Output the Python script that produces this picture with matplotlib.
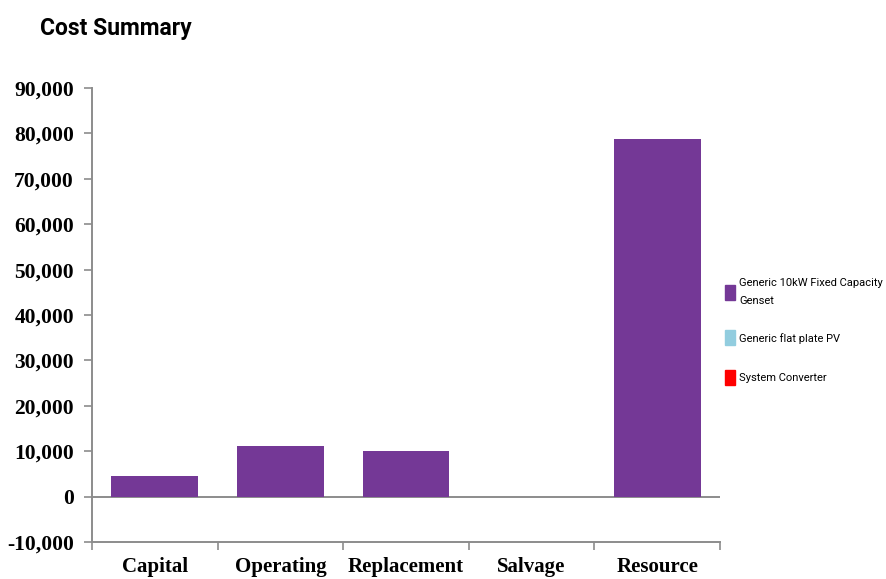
import matplotlib
matplotlib.use("Agg")
import matplotlib.pyplot as plt
from matplotlib.ticker import FuncFormatter, FixedLocator
from matplotlib.patches import Patch
import numpy as np

categories = ["Capital", "Operating", "Replacement", "Salvage", "Resource"]
genset = [4600, 11200, 10000, 0, 78800]
pv = [0, 0, 0, 0, 0]
converter = [0, 0, 0, 0, 0]
series_names = ["Generic 10kW Fixed Capacity\nGenset", "Generic flat plate PV", "System Converter"]
series_colors = ["#743896", "#92CDDF", "#FF0000"]
yticks = [-10000, 0, 10000, 20000, 30000, 40000, 50000, 60000, 70000, 80000, 90000]

fig = plt.figure(figsize=(8.87, 5.79), dpi=100)
ax = fig.add_axes([92/887, 1-542/579, (720-92)/887, (542-88)/579])

x = np.arange(len(categories))
ax.bar(x, genset, width=0.69, color=series_colors[0], zorder=3)
ax.bar(x, pv, width=0.69, bottom=genset, color=series_colors[1], zorder=3)
ax.bar(x, converter, width=0.69, bottom=genset, color=series_colors[2], zorder=3)

ax.axhline(0, color="#8c8c8c", lw=1.4, zorder=2)
ax.set_xlim(-0.5, len(categories) - 0.5)
ax.set_ylim(-10000, 90000)

serif = ["Liberation Serif", "DejaVu Serif"]
ax.set_yticks(yticks)
ax.yaxis.set_major_formatter(FuncFormatter(lambda v, p: f"{int(v):,}"))
for lab in ax.get_yticklabels():
    lab.set_fontfamily(serif)
    lab.set_fontweight("bold")
    lab.set_fontsize(15.5)

ax.xaxis.set_major_locator(FixedLocator(np.arange(len(categories) + 1) - 0.5))
ax.xaxis.set_major_formatter(FuncFormatter(lambda v, p: ""))
ax.xaxis.set_minor_locator(FixedLocator(x))
ax.set_xticklabels(categories, minor=True, fontfamily=serif, fontweight="bold", fontsize=15)
ax.tick_params(axis="x", which="minor", length=0, pad=11)
ax.tick_params(axis="x", which="major", length=6, color="#8c8c8c", width=1.2)
ax.tick_params(axis="y", length=6, color="#8c8c8c", width=1.2, pad=7)

for s in ["top", "right"]:
    ax.spines[s].set_visible(False)
for s in ["left", "bottom"]:
    ax.spines[s].set_color("#8c8c8c")
    ax.spines[s].set_linewidth(1.4)

fig.text(40/887, 1-28/579, "Cost Summary", fontsize=16.5, fontweight="bold",
         family=["Roboto", "DejaVu Sans"], va="center", ha="left")

handles = [Patch(color=c) for c in series_colors]
leg = fig.legend(handles, series_names, loc="upper left", bbox_to_anchor=(715/887, 1-268/579),
                 frameon=False, handlelength=0.9, handleheight=1.7, handletextpad=0.35,
                 labelspacing=2.2, prop={"family": ["Roboto", "DejaVu Sans"], "size": 8})
for t in leg.get_texts():
    t.set_linespacing(2.0)

fig.savefig("out.png", dpi=100)
